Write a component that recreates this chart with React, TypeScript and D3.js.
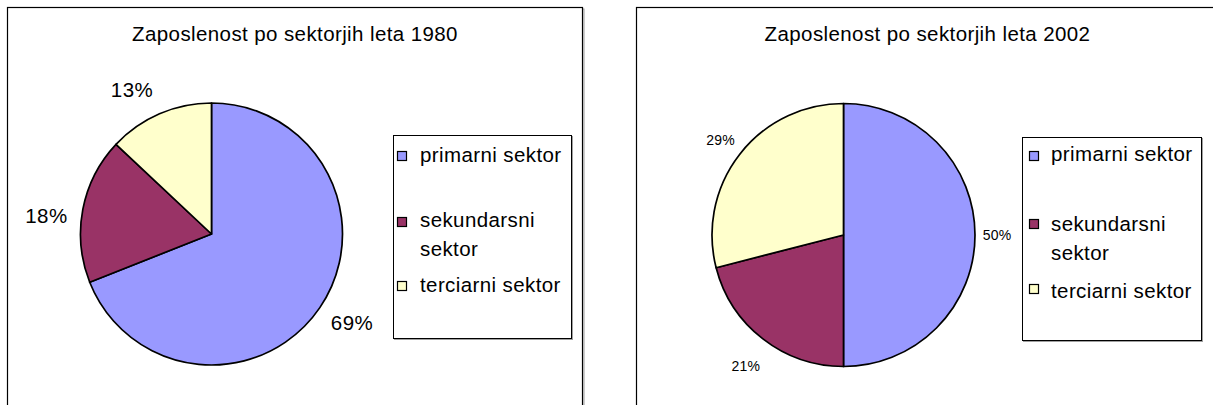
import React from "react";
import * as d3 from "d3";

const categories = ["primarni sektor", "sekundarsni sektor", "terciarni sektor"];
const legendLines = [["primarni sektor"], ["sekundarsni", "sektor"], ["terciarni sektor"]];
const values1980 = [69, 18, 13];
const values2002 = [50, 21, 29];
const titles = ["Zaposlenost po sektorjih leta 1980", "Zaposlenost po sektorjih leta 2002"];
const colors = ["#9999FF", "#993366", "#FFFFCC"];

const FONT = "'Liberation Sans', Arial, sans-serif";

type Layout = {
  boxX: number; boxY: number; boxW: number; boxH: number;
  cx: number; cy: number; r: number;
  titleY: number; titleSize: number;
  labelSize: number; labelGap: number; labelSpacing: number; labelNudge: [number, number][];
  legX: number; legY: number; legW: number; legH: number;
  swX: number; swTops: number[]; textX: number; baselines: number[]; lineStep: number;
  legSize: number; legSpacing: number;
};

const layouts: Layout[] = [
  {
    boxX: 7.5, boxY: 7.5, boxW: 575, boxH: 420,
    cx: 211.5, cy: 234, r: 131,
    titleY: 41, titleSize: 20.5,
    labelSize: 20.5, labelGap: 34, labelSpacing: 0.4,
    labelNudge: [[4, -4], [-3, 12], [-14, 7]],
    legX: 393.5, legY: 135.5, legW: 178, legH: 203,
    swX: 397.5, swTops: [151.5, 217.5, 281.5], textX: 420, baselines: [162, 227, 292], lineStep: 28.5,
    legSize: 20.5, legSpacing: 0.4,
  },
  {
    boxX: 636.5, boxY: 7.5, boxW: 582, boxH: 420,
    cx: 843.5, cy: 235, r: 131.5,
    titleY: 41, titleSize: 20.5,
    labelSize: 14, labelGap: 28, labelSpacing: 0.2,
    labelNudge: [[-6, 0], [0, 5], [3, 3]],
    legX: 1022.5, legY: 137.5, legW: 179, legH: 203,
    swX: 1029.5, swTops: [151.5, 219.5, 284.5], textX: 1051, baselines: [161, 231, 298], lineStep: 29,
    legSize: 20.5, legSpacing: 0.4,
  },
];

function PieChart({ values, title, L }: { values: number[]; title: string; L: Layout }) {
  const pie = d3.pie<number>().sort(null).value((d) => d).startAngle(0).endAngle(2 * Math.PI);
  const arcs = pie(values);
  const arc = d3.arc<d3.PieArcDatum<number>>().innerRadius(0).outerRadius(L.r);
  const total = d3.sum(values);
  const fmt = d3.format(".0%");
  return (
    <g>
      <rect x={L.boxX + 1.5} y={L.boxY + 1.5} width={L.boxW} height={L.boxH} fill="none" stroke="#9a9a9a" strokeWidth={1} />
      <rect x={L.boxX} y={L.boxY} width={L.boxW} height={L.boxH} fill="#fff" stroke="#000" strokeWidth={1.2} />
      <text x={L.boxX + L.boxW / 2} y={L.titleY} textAnchor="middle" fontFamily={FONT} fontSize={L.titleSize}
        letterSpacing={0.4} fill="#000">{title}</text>
      <g transform={`translate(${L.cx},${L.cy})`}>
        {arcs.map((a, i) => (
          <path key={i} d={arc(a) || ""} fill={colors[i]} stroke="#000" strokeWidth={1.7} strokeLinejoin="round" />
        ))}
        {arcs.map((a, i) => {
          const mid = (a.startAngle + a.endAngle) / 2;
          const rr = L.r + L.labelGap;
          return (
            <text key={"l" + i} x={Math.sin(mid) * rr + L.labelNudge[i][0]} y={-Math.cos(mid) * rr + L.labelNudge[i][1]}
              textAnchor="middle" dominantBaseline="central" fontFamily={FONT} fontSize={L.labelSize}
              letterSpacing={L.labelSpacing} fill="#000">
              {fmt(a.data / total)}
            </text>
          );
        })}
      </g>
      <rect x={L.legX + 1} y={L.legY + 1} width={L.legW} height={L.legH} fill="none" stroke="#a0a0a0" strokeWidth={1} />
      <rect x={L.legX} y={L.legY} width={L.legW} height={L.legH} fill="#fff" stroke="#000" strokeWidth={1} />
      {categories.map((c, i) => (
        <g key={c}>
          <rect x={L.swX} y={L.swTops[i]} width={9} height={9} fill={colors[i]} stroke="#000" strokeWidth={1.2} />
          <text fontFamily={FONT} fontSize={L.legSize} letterSpacing={L.legSpacing} fill="#000">
            {legendLines[i].map((ln, j) => (
              <tspan key={j} x={L.textX} y={L.baselines[i] + j * L.lineStep}>{ln}</tspan>
            ))}
          </text>
        </g>
      ))}
    </g>
  );
}

export default function App() {
  return (
    <svg width={1213} height={405} style={{ position: "absolute", left: 0, top: 0, background: "#fff" }}>
      <rect x={0} y={0} width={1213} height={405} fill="#fff" />
      <PieChart values={values1980} title={titles[0]} L={layouts[0]} />
      <PieChart values={values2002} title={titles[1]} L={layouts[1]} />
    </svg>
  );
}
